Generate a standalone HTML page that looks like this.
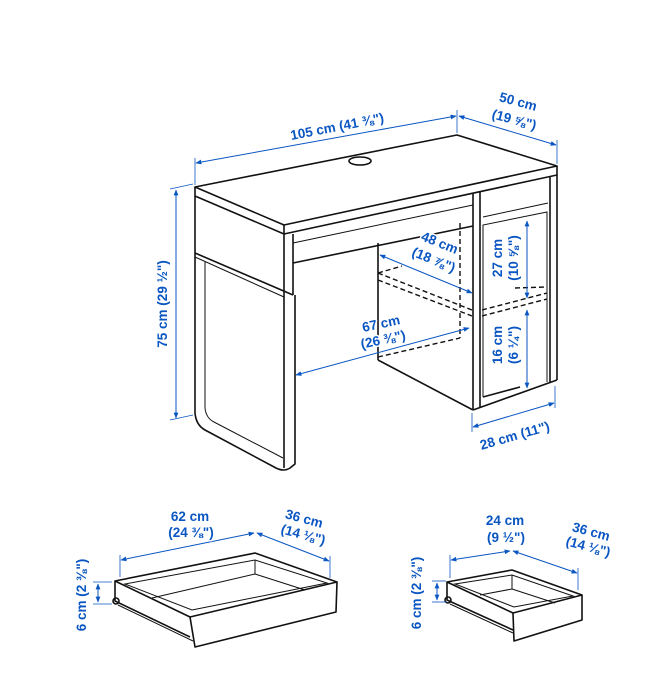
<!DOCTYPE html>
<html><head><meta charset="utf-8"><style>
html,body{margin:0;padding:0;background:#fff;}
svg{display:block}
text{font-family:"Liberation Sans",sans-serif;font-weight:bold;font-size:13.5px;fill:#0a56c2;text-anchor:middle;stroke:#fff;stroke-width:3;paint-order:stroke;stroke-linejoin:round}
.k{stroke:#111;stroke-width:1.6;fill:none;stroke-linejoin:round}
.kt{stroke:#111;stroke-width:1;fill:none}
.d{stroke:#111;stroke-width:1.4;fill:none;stroke-dasharray:5 3}
.b{stroke:#0a56c2;stroke-width:1;fill:none}
.e{stroke:#0a56c2;stroke-width:0.8;fill:none}
</style></head><body>
<svg width="656" height="678" viewBox="0 0 656 678" xmlns="http://www.w3.org/2000/svg">
<defs>
<marker id="a" viewBox="0 0 10 10" refX="9" refY="5" markerWidth="6" markerHeight="6" orient="auto-start-reverse"><path d="M0,1 L10,5 L0,9 z" fill="#0a56c2"/></marker>
</defs>
<polygon class="k" points="195,187 457,135 557,166 284,225"/>
<polyline class="k" points="195,187 195,196 284,234 557,175 557,166"/>
<line class="k" x1="284" y1="225" x2="284" y2="234"/>
<ellipse class="k" cx="360" cy="161" rx="11" ry="4"/>
<path class="k" d="M195,196 L195,413 Q196,425 205,430 L276,468 Q284,472 290,468 L295,464 L295,295"/>
<line class="k" x1="195" y1="253" x2="293" y2="295"/>
<line class="kt" x1="195" y1="257" x2="284" y2="297"/>
<path class="kt" d="M205,262 L205,408 Q206,418 214,422 L283,458"/>
<line class="k" x1="284" y1="234" x2="284" y2="468"/>
<line class="k" x1="293" y1="234" x2="293" y2="295"/>
<line class="k" x1="293" y1="263" x2="473" y2="226"/>
<line class="kt" x1="293" y1="243" x2="473" y2="205"/>
<line class="k" x1="473" y1="193" x2="473" y2="410"/>
<line class="k" x1="480" y1="192" x2="480" y2="408"/>
<line class="k" x1="550" y1="177" x2="550" y2="383"/>
<line class="k" x1="557" y1="175" x2="557" y2="380"/>
<line class="k" x1="473" y1="410" x2="557" y2="380"/>
<line class="kt" x1="483" y1="217" x2="548" y2="203"/>
<polyline class="kt" points="483,397 483,225 547,212 547,382"/>
<line class="k" x1="483" y1="397" x2="520" y2="387"/>
<line class="k" x1="378" y1="243" x2="378" y2="360"/>
<line class="k" x1="378" y1="360" x2="473" y2="410"/>
<line class="d" x1="378" y1="273" x2="472" y2="310"/>
<line class="d" x1="378" y1="280" x2="472" y2="316"/>
<line class="d" x1="378" y1="273" x2="402" y2="266"/>
<line class="d" x1="460" y1="223" x2="460" y2="310"/>
<line class="d" x1="460" y1="313" x2="460" y2="338"/>
<line class="d" x1="378" y1="357" x2="460" y2="338"/>
<line class="d" x1="482" y1="310" x2="547" y2="293"/>
<line class="d" x1="482" y1="316" x2="547" y2="299"/>
<line class="d" x1="515" y1="288" x2="547" y2="287"/>
<line class="e" x1="195" y1="158" x2="195" y2="185"/>
<line class="e" x1="457" y1="110" x2="457" y2="133"/>
<line class="b" x1="196" y1="163" x2="456" y2="116" marker-start="url(#a)" marker-end="url(#a)"/>
<line class="e" x1="557" y1="140" x2="557" y2="164"/>
<line class="b" x1="459" y1="116" x2="556" y2="145" marker-start="url(#a)" marker-end="url(#a)"/>
<line class="e" x1="170" y1="189" x2="193" y2="184"/>
<line class="e" x1="170" y1="420" x2="193" y2="415"/>
<line class="b" x1="176" y1="190" x2="176" y2="418" marker-start="url(#a)" marker-end="url(#a)"/>
<line class="b" x1="380" y1="255" x2="472" y2="293" marker-start="url(#a)" marker-end="url(#a)"/>
<line class="b" x1="296" y1="375" x2="469" y2="328" marker-start="url(#a)" marker-end="url(#a)"/>
<line class="b" x1="527" y1="221" x2="527" y2="298" marker-start="url(#a)" marker-end="url(#a)"/>
<line class="b" x1="527" y1="310" x2="527" y2="388" marker-start="url(#a)" marker-end="url(#a)"/>
<line class="e" x1="472" y1="413" x2="472" y2="432"/>
<line class="e" x1="555" y1="386" x2="555" y2="408"/>
<line class="b" x1="473" y1="427" x2="554" y2="403" marker-start="url(#a)" marker-end="url(#a)"/>
<text transform="translate(338,131) rotate(-11)">105 cm (41 ⅜")</text>
<text transform="translate(517,106) rotate(15)">50 cm</text>
<text transform="translate(513,124) rotate(15)">(19 ⅝")</text>
<text transform="translate(167,304) rotate(-90)">75 cm (29 ½")</text>
<text transform="translate(438,247) rotate(22)">48 cm</text>
<text transform="translate(432,264) rotate(22)">(18 ⅞")</text>
<text transform="translate(382,328) rotate(-12)">67 cm</text>
<text transform="translate(384,344) rotate(-12)">(26 ⅜")</text>
<text transform="translate(502,258) rotate(-90)">27 cm</text>
<text transform="translate(518,258) rotate(-90)">(10 ⅝")</text>
<text transform="translate(502,345) rotate(-90)">16 cm</text>
<text transform="translate(518,345) rotate(-90)">(6 ¼")</text>
<text transform="translate(516,440) rotate(-16)">28 cm (11")</text>
<polygon class="k" points="115,581 255,553 337,582 190,617"/>
<polygon class="kt" points="125,584 255,560 327,583 192,610"/>
<line class="kt" x1="152" y1="598" x2="255" y2="574"/>
<line class="kt" x1="255" y1="560" x2="255" y2="574"/>
<line class="kt" x1="255" y1="574" x2="305" y2="590"/>
<polyline class="k" points="190,617 195,647 336,612 337,582"/>
<polyline class="k" points="115,581 115,601 190,637"/>
<circle class="k" cx="116" cy="601" r="3"/>
<line class="kt" x1="118" y1="605" x2="193" y2="641"/>
<line class="e" x1="120" y1="555" x2="120" y2="577"/>
<line class="e" x1="330" y1="556" x2="330" y2="578"/>
<line class="b" x1="121" y1="560" x2="254" y2="533" marker-start="url(#a)" marker-end="url(#a)"/>
<line class="b" x1="257" y1="533" x2="329" y2="561" marker-start="url(#a)" marker-end="url(#a)"/>
<line class="e" x1="93" y1="582" x2="112" y2="582"/>
<line class="e" x1="93" y1="604" x2="112" y2="604"/>
<line class="b" x1="98" y1="584" x2="98" y2="602" marker-start="url(#a)" marker-end="url(#a)"/>
<text x="190" y="521">62 cm</text>
<text x="191" y="537">(24 ⅜")</text>
<text transform="translate(303,523) rotate(15)">36 cm</text>
<text transform="translate(302,539) rotate(15)">(14 ⅛")</text>
<text transform="translate(86,595) rotate(-90)">6 cm (2 ⅜")</text>
<polygon class="k" points="447,582 512,570 582,595 513,613"/>
<polygon class="kt" points="455,584 512,575 573,596 514,607"/>
<line class="kt" x1="480" y1="595" x2="512" y2="589"/>
<line class="kt" x1="512" y1="575" x2="512" y2="589"/>
<line class="kt" x1="512" y1="589" x2="555" y2="603"/>
<polyline class="k" points="513,613 514,641 582,620 582,595"/>
<polyline class="k" points="447,582 447,600 513,630"/>
<circle class="k" cx="448" cy="600" r="3"/>
<line class="kt" x1="450" y1="604" x2="513" y2="633"/>
<line class="e" x1="450" y1="555" x2="450" y2="578"/>
<line class="e" x1="578" y1="568" x2="578" y2="590"/>
<line class="b" x1="451" y1="560" x2="510" y2="551" marker-start="url(#a)" marker-end="url(#a)"/>
<line class="b" x1="513" y1="551" x2="577" y2="573" marker-start="url(#a)" marker-end="url(#a)"/>
<line class="e" x1="432" y1="581" x2="446" y2="581"/>
<line class="e" x1="432" y1="602" x2="446" y2="602"/>
<line class="b" x1="437" y1="583" x2="437" y2="600" marker-start="url(#a)" marker-end="url(#a)"/>
<text x="505" y="525">24 cm</text>
<text x="506" y="542">(9 ½")</text>
<text transform="translate(590,536) rotate(15)">36 cm</text>
<text transform="translate(587,551) rotate(15)">(14 ⅛")</text>
<text transform="translate(421,593) rotate(-90)">6 cm (2 ⅜")</text>
</svg>
</body></html>
